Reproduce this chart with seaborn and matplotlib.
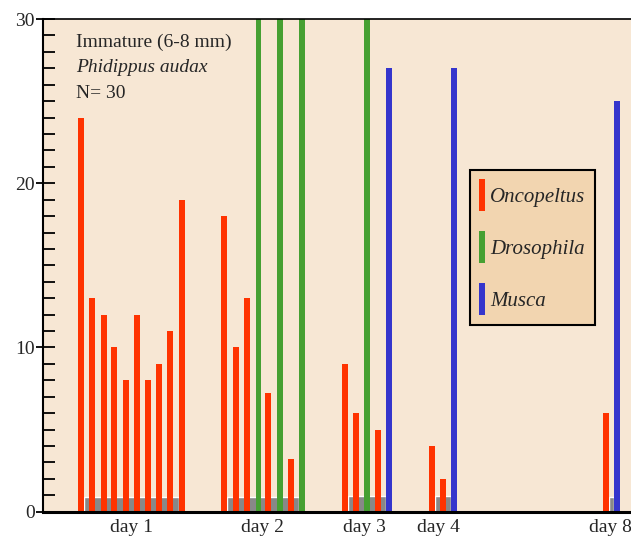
import matplotlib
matplotlib.use('Agg')
import matplotlib.pyplot as plt
from matplotlib.patches import Patch
import seaborn as sns
import numpy as np
import pandas as pd

# bar positions along the x axis (arbitrary units) and counts, one list per prey
onco_pos = [37.7, 49.3, 60.7, 71.3, 82.7, 93.7, 105.0, 116.3, 127.3, 138.7,
            181.3, 192.7, 204.0, 224.7, 247.8,
            302.3, 313.2, 335.0,
            388.7, 399.8,
            562.8]
onco_val = [24, 13, 12, 10, 8, 12, 8, 9, 11, 19,
            18, 10, 13, 7.2, 3.2,
            9, 6, 5,
            4, 2,
            6]
droso_pos = [215.5, 237.2, 259.2, 324.3]
droso_val = [30, 30, 30, 30]
musca_pos = [346.0, 411.3, 573.7]
musca_val = [27, 27, 25]

# grey baseline strips under each day
base_pos = [88.5, 220.3, 324.2, 400.0, 568.3]
base_width = [95, 72, 37.7, 16.6, 4.7]
base_val = [0.92, 0.92, 0.95, 0.95, 0.87]

day_pos = [88.2, 219.5, 321.5, 395.8, 567.0]
day_labels = ['day 1', 'day 2', 'day 3', 'day 4', 'day 8']

prey_order = ['Oncopeltus', 'Drosophila', 'Musca']
colors = {'Oncopeltus': '#FF3300', 'Drosophila': '#46A032', 'Musca': '#3535CC'}

df = pd.DataFrame({
    'pos': onco_pos + droso_pos + musca_pos,
    'count': onco_val + droso_val + musca_val,
    'prey': (['Oncopeltus'] * len(onco_pos) + ['Drosophila'] * len(droso_pos)
             + ['Musca'] * len(musca_pos)),
})

sns.set_style("ticks")
plt.rcParams['font.family'] = ['Liberation Serif', 'DejaVu Serif']

fig = plt.figure(figsize=(6.31, 5.4), dpi=100)
ax = fig.add_axes([43 / 631, 28.3 / 540, 588 / 631, 492.7 / 540])
ax.set_facecolor('#F7E7D4')

ax.bar(base_pos, base_val, width=base_width, color='#888888', zorder=1)

bar_w = 5.8
min_gap = np.min(np.diff(np.sort(df['pos'].values)))
sns.barplot(data=df, x='pos', y='count', hue='prey', hue_order=prey_order,
            palette=colors, native_scale=True, dodge=False, errorbar=None,
            width=bar_w / min_gap, saturation=1, linewidth=0, legend=False,
            zorder=2, ax=ax)

ax.set_xlim(0, 588)
ax.set_ylim(0, 30)
ax.set_xlabel('')
ax.set_ylabel('')

ax.set_xticks(day_pos)
ax.set_xticklabels(day_labels, fontsize=14)
ax.tick_params(axis='x', length=0, pad=5)

ax.set_yticks([0, 10, 20, 30])
ax.set_yticks(np.arange(0, 31, 1), minor=True)
ax.yaxis.remove_overlapping_locs = False
ax.tick_params(axis='y', which='major', direction='out', length=5, width=1.3,
               labelsize=14, pad=1, color='black')
ax.tick_params(axis='y', which='minor', direction='in', length=8.5, width=1.3,
               color='black')

ax.spines['right'].set_visible(False)
ax.spines['left'].set_linewidth(1.5)
ax.spines['top'].set_linewidth(1.2)
ax.spines['bottom'].set_linewidth(2.2)
for s in ax.spines.values():
    s.set_color('black')

ax.text(0.056, 0.953, 'Immature (6-8 mm)', transform=ax.transAxes,
        fontsize=14, va='center', ha='left')
ax.text(0.056, 0.901, 'Phidippus audax', transform=ax.transAxes,
        fontsize=14, style='italic', va='center', ha='left')
ax.text(0.056, 0.848, 'N= 30', transform=ax.transAxes,
        fontsize=14, va='center', ha='left')

handles = [Patch(facecolor=colors[p], edgecolor='none', label=p) for p in prey_order]
leg = ax.legend(handles=handles, loc='upper left', bbox_to_anchor=(0.7262, 0.6935),
                borderaxespad=0, handlelength=0.29, handleheight=1.99,
                handletextpad=0.22, labelspacing=0.95, borderpad=0.45,
                fancybox=False, framealpha=1,
                prop={'family': 'Liberation Serif', 'style': 'italic', 'size': 15})
leg.get_frame().set_facecolor('#F2D5B0')
leg.get_frame().set_edgecolor('black')
leg.get_frame().set_linewidth(1.5)

fig.savefig('out.png', dpi=100)
